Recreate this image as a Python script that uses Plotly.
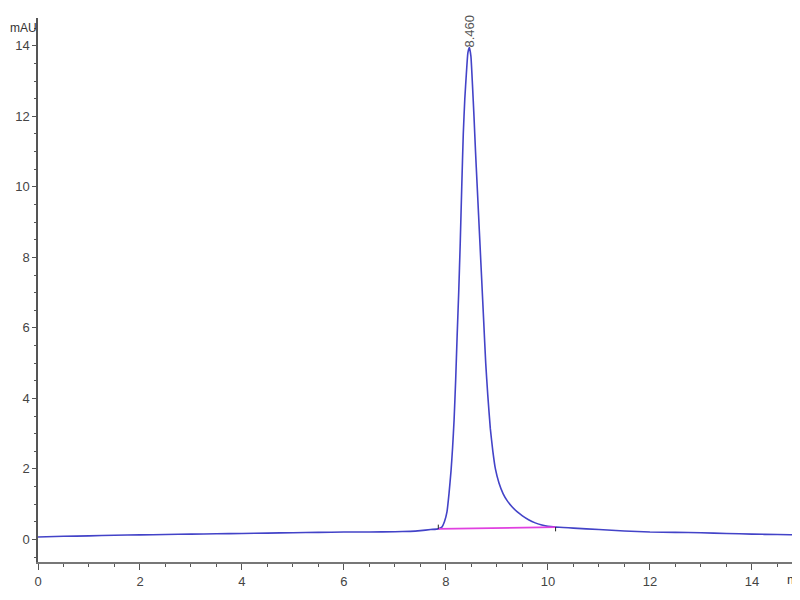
import plotly.graph_objects as go

# Retention time (min) and absorbance (mAU)
time_min = [0.0, 0.5, 1.0, 1.5, 2.0, 2.5, 3.0, 3.5, 4.0, 4.5, 5.0, 5.5, 6.0, 6.5,
            7.0, 7.3, 7.5, 7.7, 7.85, 7.92, 7.97, 8.02, 8.06, 8.10, 8.13, 8.16,
            8.19, 8.22, 8.25, 8.28, 8.31, 8.34, 8.37, 8.40, 8.43, 8.46, 8.49,
            8.52, 8.55, 8.58, 8.61, 8.64, 8.67, 8.70, 8.74, 8.78, 8.82, 8.87,
            8.92, 8.97, 9.04, 9.12, 9.20, 9.30, 9.40, 9.50, 9.62, 9.75, 9.88,
            10.0, 10.15, 10.3, 10.5, 11.0, 11.5, 12.0, 12.5, 13.0, 13.5, 14.0,
            14.5, 15.0, 15.2]
absorbance_mau = [0.07, 0.09, 0.10, 0.12, 0.13, 0.14, 0.15, 0.16, 0.17, 0.18,
                  0.19, 0.20, 0.21, 0.21, 0.22, 0.23, 0.25, 0.28, 0.30, 0.35,
                  0.50, 0.78, 1.30, 1.95, 2.60, 3.40, 4.50, 5.80, 7.00, 8.40,
                  10.0, 11.5, 12.5, 13.2, 13.8, 13.95, 13.7, 12.9, 12.0, 11.0,
                  10.1, 9.2, 8.3, 7.4, 6.2, 5.0, 4.1, 3.15, 2.5, 2.0, 1.6, 1.3,
                  1.1, 0.92, 0.78, 0.67, 0.56, 0.47, 0.41, 0.37, 0.35, 0.34,
                  0.32, 0.28, 0.24, 0.21, 0.20, 0.19, 0.17, 0.15, 0.14, 0.13, 0.13]

# Integration baseline (start / end of peak)
baseline_time = [7.85, 10.15]
baseline_mau = [0.30, 0.35]

peak_label = "8.460"
peak_time = 8.46
peak_height = 13.95

x_ticks = [0, 2, 4, 6, 8, 10, 12, 14]
y_ticks = [0, 2, 4, 6, 8, 10, 12, 14]

fig = go.Figure()

fig.add_trace(go.Scatter(
    x=time_min, y=absorbance_mau, mode="lines",
    line=dict(color="#4343c8", width=1.6, shape="spline", smoothing=0.4),
    hoverinfo="skip", showlegend=False))

fig.add_trace(go.Scatter(
    x=baseline_time, y=baseline_mau, mode="lines",
    line=dict(color="#e040e0", width=1.8),
    hoverinfo="skip", showlegend=False))

# small integration tick marks
fig.add_trace(go.Scatter(
    x=[baseline_time[0], baseline_time[0], None, baseline_time[1], baseline_time[1]],
    y=[baseline_mau[0], baseline_mau[0] + 0.12, None, baseline_mau[1], baseline_mau[1] - 0.12],
    mode="lines", line=dict(color="#222222", width=1),
    hoverinfo="skip", showlegend=False))

fig.add_annotation(
    x=peak_time, y=peak_height, text=peak_label, textangle=-90,
    showarrow=False, xanchor="center", yanchor="bottom", yshift=-2,
    font=dict(family="Liberation Sans, Arial", size=13, color="#555555"))

fig.add_annotation(
    xref="paper", yref="paper", x=-0.039, y=0.982, text="mAU",
    showarrow=False, xanchor="left", yanchor="middle",
    font=dict(family="Liberation Sans, Arial", size=12, color="#333333"))

fig.add_annotation(
    xref="paper", yref="paper", x=0.970, y=-0.033, text="min",
    showarrow=False, xanchor="left", yanchor="middle",
    font=dict(family="Liberation Sans, Arial", size=13, color="#333333"))

fig.update_layout(
    width=800, height=600,
    margin=dict(l=30, r=0, t=10, b=46),
    paper_bgcolor="white", plot_bgcolor="white",
    font=dict(family="Liberation Sans, Arial", size=13, color="#444444"),
    xaxis=dict(range=[0, 15.1], tickvals=x_ticks, ticks="outside", ticklen=6,
               tickcolor="#555555", showline=True, linecolor="#777777", linewidth=2,
               showgrid=False, zeroline=False,
               minor=dict(dtick=0.5, ticks="outside", ticklen=3, tickcolor="#555555"),
               tickfont=dict(size=13, color="#444444")),
    yaxis=dict(range=[-0.64, 14.79], tickvals=y_ticks, ticks="outside", ticklen=4,
               tickcolor="#555555", showline=True, linecolor="#555555", linewidth=1.5,
               showgrid=False, zeroline=False,
               minor=dict(dtick=0.5, ticks="outside", ticklen=2, tickcolor="#555555"),
               tickfont=dict(size=13, color="#444444")),
)

fig.write_html("out.html")
